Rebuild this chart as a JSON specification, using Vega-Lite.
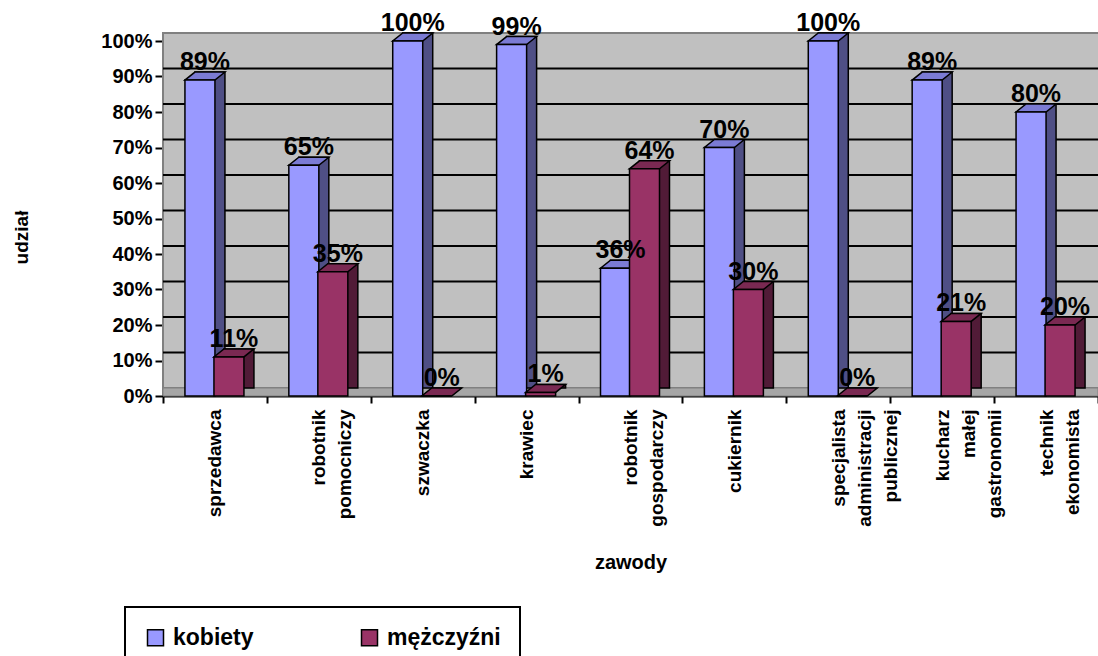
{
  "$schema": "https://vega.github.io/schema/vega-lite/v6.json",
  "width": 935,
  "height": 355,
  "autosize": {"type": "none"},
  "padding": {"left": 163, "top": 41, "right": 0, "bottom": 260},
  "background": "white",
  "config": {
    "view": {"stroke": null, "fill": "#c0c0c0"},
    "font": "Liberation Sans",
    "axisX": {
      "labelAngle": -90,
      "labelFont": "Liberation Sans",
      "labelFontWeight": "bold",
      "labelFontSize": 19,
      "labelColor": "black",
      "labelLineHeight": 26,
      "labelPadding": 6,
      "labelLimit": 300,
      "labelOverlap": false,
      "tickSize": 7,
      "tickWidth": 2,
      "tickColor": "black",
      "tickBand": "extent",
      "domainColor": "black",
      "domainWidth": 2,
      "grid": false,
      "titleFont": "Liberation Sans",
      "titleFontSize": 20,
      "titleFontWeight": "bold",
      "titleColor": "black",
      "titleY": 156
    },
    "axisY": {
      "grid": false,
      "labelOverlap": false,
      "labelFont": "Liberation Sans",
      "labelFontSize": 20,
      "labelFontWeight": "bold",
      "labelColor": "black",
      "labelPadding": 3,
      "tickSize": 8,
      "tickWidth": 2,
      "tickColor": "black",
      "domainColor": "black",
      "domainWidth": 2,
      "titleFont": "Liberation Sans",
      "titleFontSize": 19,
      "titleFontWeight": "bold",
      "titleColor": "black",
      "titleX": -132,
      "titleY": 196
    },
    "legend": {
      "orient": "none",
      "legendX": -38,
      "legendY": 566,
      "direction": "horizontal",
      "strokeColor": "black",
      "strokeWidth": 2,
      "padding": 19,
      "labelFont": "Liberation Sans",
      "labelFontSize": 23,
      "labelFontWeight": "bold",
      "labelColor": "black",
      "labelOffset": 6,
      "symbolType": "square",
      "symbolSize": 256,
      "symbolStrokeColor": "black",
      "symbolStrokeWidth": 1.5,
      "symbolOpacity": 1,
      "columnPadding": 104
    }
  },
  "datasets": {
    "grid": [{"v": 0.1}, {"v": 0.2}, {"v": 0.3}, {"v": 0.4}, {"v": 0.5}, {"v": 0.6}, {"v": 0.7}, {"v": 0.8}, {"v": 0.9}]
  },
  "data": {
    "values": [
      {"zawod": "sprzedawca", "plec": "kobiety", "udzial": 0.89},
      {"zawod": "robotnik pomocniczy", "plec": "kobiety", "udzial": 0.65},
      {"zawod": "szwaczka", "plec": "kobiety", "udzial": 1.0},
      {"zawod": "krawiec", "plec": "kobiety", "udzial": 0.99},
      {"zawod": "robotnik gospodarczy", "plec": "kobiety", "udzial": 0.36},
      {"zawod": "cukiernik", "plec": "kobiety", "udzial": 0.70},
      {"zawod": "specjalista administracji publicznej", "plec": "kobiety", "udzial": 1.0},
      {"zawod": "kucharz małej gastronomii", "plec": "kobiety", "udzial": 0.89},
      {"zawod": "technik ekonomista", "plec": "kobiety", "udzial": 0.80},
      {"zawod": "sprzedawca", "plec": "mężczyźni", "udzial": 0.11},
      {"zawod": "robotnik pomocniczy", "plec": "mężczyźni", "udzial": 0.35},
      {"zawod": "szwaczka", "plec": "mężczyźni", "udzial": 0.0},
      {"zawod": "krawiec", "plec": "mężczyźni", "udzial": 0.01},
      {"zawod": "robotnik gospodarczy", "plec": "mężczyźni", "udzial": 0.64},
      {"zawod": "cukiernik", "plec": "mężczyźni", "udzial": 0.30},
      {"zawod": "specjalista administracji publicznej", "plec": "mężczyźni", "udzial": 0.0},
      {"zawod": "kucharz małej gastronomii", "plec": "mężczyźni", "udzial": 0.21},
      {"zawod": "technik ekonomista", "plec": "mężczyźni", "udzial": 0.20}
    ]
  },
  "layer": [
    {
      "data": {"values": [{}]},
      "mark": {"type": "rect", "fill": "#c0c0c0", "stroke": "#808080", "strokeWidth": 2, "xOffset": 10, "x2Offset": 10, "yOffset": -8, "y2Offset": -8},
      "encoding": {
        "y": {"datum": 1, "type": "quantitative", "scale": {"domain": [0, 1], "nice": false}, "axis": {"title": "udział", "values": [0, 0.1, 0.2, 0.3, 0.4, 0.5, 0.6, 0.7, 0.8, 0.9, 1], "format": ".0%"}},
        "y2": {"datum": 0}
      }
    },
    {
      "data": {"values": [{}]},
      "mark": {"type": "rect", "fill": "#a6a6a6", "stroke": "#808080", "strokeWidth": 1, "yOffset": -8},
      "encoding": {
        "y": {"datum": 0, "type": "quantitative", "axis": {"title": "udział", "values": [0, 0.1, 0.2, 0.3, 0.4, 0.5, 0.6, 0.7, 0.8, 0.9, 1], "format": ".0%"}},
        "y2": {"datum": 0}
      }
    },
    {
      "data": {"name": "grid"},
      "mark": {"type": "rule", "color": "black", "strokeWidth": 2, "xOffset": 10, "x2Offset": 10, "yOffset": -8},
      "encoding": {
        "y": {"field": "v", "type": "quantitative", "axis": {"title": "udział", "values": [0, 0.1, 0.2, 0.3, 0.4, 0.5, 0.6, 0.7, 0.8, 0.9, 1], "format": ".0%"}}
      }
    },
    {
      "transform": [{"filter": "datum.plec === 'kobiety'"}],
      "mark": {"type": "bar", "width": 30, "xOffset": -5, "yOffset": -8, "y2Offset": -8, "fill": "#4f4f85", "stroke": "black", "strokeWidth": 1.5},
      "encoding": {
        "x": {"field": "zawod", "type": "nominal", "sort": null, "scale": {"paddingInner": 0, "paddingOuter": 0}, "axis": {"title": "zawody", "labelExpr": "split(datum.label, ' ')"}},
        "y": {"field": "udzial", "type": "quantitative", "axis": {"title": "udział", "values": [0, 0.1, 0.2, 0.3, 0.4, 0.5, 0.6, 0.7, 0.8, 0.9, 1], "format": ".0%"}}
      }
    },
    {
      "transform": [{"filter": "datum.plec === 'kobiety'"}],
      "mark": {"type": "point", "shape": "M-1,0L1,0L1.667,-0.533L-0.333,-0.533Z", "size": 900, "filled": true, "fill": "#7b7bd4", "stroke": "black", "strokeWidth": 1.5, "opacity": 1, "xOffset": -15},
      "encoding": {
        "x": {"field": "zawod", "type": "nominal", "sort": null, "axis": {"title": "zawody", "labelExpr": "split(datum.label, ' ')"}},
        "y": {"field": "udzial", "type": "quantitative", "axis": {"title": "udział", "values": [0, 0.1, 0.2, 0.3, 0.4, 0.5, 0.6, 0.7, 0.8, 0.9, 1], "format": ".0%"}}
      }
    },
    {
      "transform": [{"filter": "datum.plec === 'kobiety'"}],
      "mark": {"type": "bar", "width": 30, "xOffset": -15, "stroke": "black", "strokeWidth": 1.5},
      "encoding": {
        "x": {"field": "zawod", "type": "nominal", "sort": null, "axis": {"title": "zawody", "labelExpr": "split(datum.label, ' ')"}},
        "y": {"field": "udzial", "type": "quantitative", "axis": {"title": "udział", "values": [0, 0.1, 0.2, 0.3, 0.4, 0.5, 0.6, 0.7, 0.8, 0.9, 1], "format": ".0%"}},
        "color": {
          "field": "plec", "type": "nominal",
          "scale": {"domain": ["kobiety", "mężczyźni"], "range": ["#9999ff", "#993366"]},
          "title": null
        }
      }
    },
    {
      "transform": [{"filter": "datum.plec === 'mężczyźni'"}],
      "mark": {"type": "bar", "width": 30, "xOffset": 24, "yOffset": -8, "y2Offset": -8, "fill": "#511b37", "stroke": "black", "strokeWidth": 1.5},
      "encoding": {
        "x": {"field": "zawod", "type": "nominal", "sort": null, "axis": {"title": "zawody", "labelExpr": "split(datum.label, ' ')"}},
        "y": {"field": "udzial", "type": "quantitative", "axis": {"title": "udział", "values": [0, 0.1, 0.2, 0.3, 0.4, 0.5, 0.6, 0.7, 0.8, 0.9, 1], "format": ".0%"}}
      }
    },
    {
      "transform": [{"filter": "datum.plec === 'mężczyźni'"}],
      "mark": {"type": "point", "shape": "M-1,0L1,0L1.667,-0.533L-0.333,-0.533Z", "size": 900, "filled": true, "fill": "#7a2952", "stroke": "black", "strokeWidth": 1.5, "opacity": 1, "xOffset": 14},
      "encoding": {
        "x": {"field": "zawod", "type": "nominal", "sort": null, "axis": {"title": "zawody", "labelExpr": "split(datum.label, ' ')"}},
        "y": {"field": "udzial", "type": "quantitative", "axis": {"title": "udział", "values": [0, 0.1, 0.2, 0.3, 0.4, 0.5, 0.6, 0.7, 0.8, 0.9, 1], "format": ".0%"}}
      }
    },
    {
      "transform": [{"filter": "datum.plec === 'mężczyźni'"}],
      "mark": {"type": "bar", "width": 30, "xOffset": 14, "stroke": "black", "strokeWidth": 1.5},
      "encoding": {
        "x": {"field": "zawod", "type": "nominal", "sort": null, "axis": {"title": "zawody", "labelExpr": "split(datum.label, ' ')"}},
        "y": {"field": "udzial", "type": "quantitative", "axis": {"title": "udział", "values": [0, 0.1, 0.2, 0.3, 0.4, 0.5, 0.6, 0.7, 0.8, 0.9, 1], "format": ".0%"}},
        "color": {
          "field": "plec", "type": "nominal",
          "scale": {"domain": ["kobiety", "mężczyźni"], "range": ["#9999ff", "#993366"]},
          "title": null
        }
      }
    },
    {
      "transform": [{"filter": "datum.plec === 'kobiety'"}],
      "mark": {"type": "text", "font": "Liberation Sans", "fontSize": 25, "fontWeight": "bold", "color": "black", "dx": -10, "dy": -10, "baseline": "alphabetic", "align": "center"},
      "encoding": {
        "x": {"field": "zawod", "type": "nominal", "sort": null, "axis": {"title": "zawody", "labelExpr": "split(datum.label, ' ')"}},
        "y": {"field": "udzial", "type": "quantitative", "axis": {"title": "udział", "values": [0, 0.1, 0.2, 0.3, 0.4, 0.5, 0.6, 0.7, 0.8, 0.9, 1], "format": ".0%"}},
        "text": {"field": "udzial", "type": "quantitative", "format": ".0%"}
      }
    },
    {
      "transform": [{"filter": "datum.plec === 'mężczyźni'"}],
      "mark": {"type": "text", "font": "Liberation Sans", "fontSize": 25, "fontWeight": "bold", "color": "black", "dx": 19, "dy": -10, "baseline": "alphabetic", "align": "center"},
      "encoding": {
        "x": {"field": "zawod", "type": "nominal", "sort": null, "axis": {"title": "zawody", "labelExpr": "split(datum.label, ' ')"}},
        "y": {"field": "udzial", "type": "quantitative", "axis": {"title": "udział", "values": [0, 0.1, 0.2, 0.3, 0.4, 0.5, 0.6, 0.7, 0.8, 0.9, 1], "format": ".0%"}},
        "text": {"field": "udzial", "type": "quantitative", "format": ".0%"}
      }
    }
  ]
}
